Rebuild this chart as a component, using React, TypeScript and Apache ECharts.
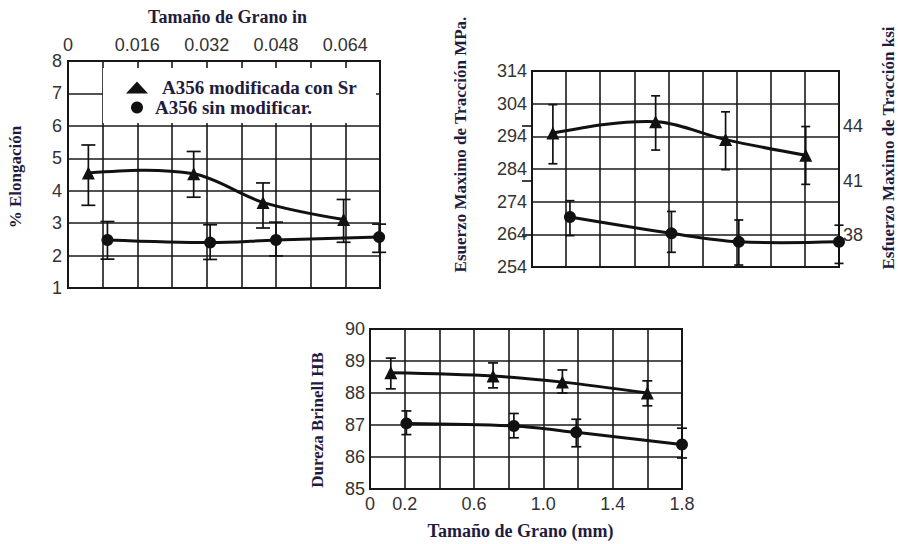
import React, { useEffect, useRef } from 'react';
import * as echarts from 'echarts';

const TRI = 'A356 modificada con Sr';
const CIR = 'A356 sin modificar.';

// Panel 1: % Elongación vs grain size (in)
const elongTriX = [0.0047, 0.029, 0.045, 0.0636];
const elongTriY = [4.55, 4.52, 3.64, 3.11];
const elongTriLow = [3.55, 3.8, 2.85, 2.41];
const elongTriHigh = [5.41, 5.21, 4.24, 3.73];
const elongCirX = [0.0091, 0.0328, 0.048, 0.0718];
const elongCirY = [2.48, 2.4, 2.48, 2.57];
const elongCirLow = [1.89, 1.88, 1.99, 2.1];
const elongCirHigh = [3.05, 2.95, 3.03, 2.97];

// Panel 2: Esfuerzo máximo (MPa) vs grain size (in)
const utsTriX = [0.0049, 0.029, 0.0454, 0.0642];
const utsTriY = [295.0, 298.5, 293.0, 288.2];
const utsTriLow = [285.6, 289.8, 283.8, 279.3];
const utsTriHigh = [303.7, 306.4, 301.5, 297.0];
const utsCirX = [0.0089, 0.0327, 0.0485, 0.072];
const utsCirY = [269.3, 264.3, 261.7, 261.7];
const utsCirLow = [263.6, 258.5, 254.6, 255.1];
const utsCirHigh = [274.3, 271.0, 268.4, 266.8];

// Panel 3: Dureza Brinell vs grain size (mm)
const hbTriX = [0.12, 0.71, 1.11, 1.6];
const hbTriY = [88.63, 88.53, 88.34, 88.0];
const hbTriLow = [88.13, 88.16, 88.0, 87.6];
const hbTriHigh = [89.09, 88.94, 88.72, 88.38];
const hbCirX = [0.21, 0.83, 1.19, 1.8];
const hbCirY = [87.05, 86.97, 86.77, 86.39];
const hbCirLow = [86.7, 86.6, 86.32, 85.97];
const hbCirHigh = [87.44, 87.36, 87.18, 86.9];

// Axis ranges and tick labels
const inchRange = [0, 0.072];
const inchStep = 0.008;
const inchLabels = ['0', '0.016', '0.032', '0.048', '0.064'];
const elongRange = [1, 8];
const utsRange = [254, 314];
const ksiRange = [38, 44];
const hbRange = [85, 90];
const mmRange = [0, 1.8];
const mmStep = 0.2;
const mmLabels = ['0', '0.2', '0.6', '1.0', '1.4', '1.8'];

const INK = '#111';
const TITLE = '#1f1c3d';
const LABEL = '#333';
const SANS = 'Liberation Sans, Arial, sans-serif';
const SERIF = 'Liberation Serif, Times New Roman, serif';

const pairs = (xs: number[], ys: number[]) => xs.map((x, i) => [x, ys[i]]);
const triples = (xs: number[], lo: number[], hi: number[]) => xs.map((x, i) => [x, lo[i], hi[i]]);

const errRender = (capW: number) => (params: any, api: any) => {
  const x = api.value(0);
  const pLo = api.coord([x, api.value(1)]);
  const pHi = api.coord([x, api.value(2)]);
  const style = { stroke: INK, lineWidth: 1.7 };
  return {
    type: 'group',
    children: [
      { type: 'line', shape: { x1: pLo[0], y1: pLo[1], x2: pHi[0], y2: pHi[1] }, style },
      { type: 'line', shape: { x1: pLo[0] - capW / 2, y1: pLo[1], x2: pLo[0] + capW / 2, y2: pLo[1] }, style },
      { type: 'line', shape: { x1: pHi[0] - capW / 2, y1: pHi[1], x2: pHi[0] + capW / 2, y2: pHi[1] }, style },
    ],
  };
};

// Smooth curve through the data points (cubic Hermite segments, drawn in pixel space)
const curveRender = (params: any, api: any) => {
  const n = params.dataInsideLength;
  const i = params.dataIndexInside;
  if (i >= n - 1) return { type: 'group', children: [] };
  const pts: number[][] = [];
  for (let k = 0; k < n; k++) pts.push(api.coord([api.value(0, k), api.value(1, k)]));
  const sec = (k: number) => (pts[k + 1][1] - pts[k][1]) / (pts[k + 1][0] - pts[k][0]);
  const inner = (k: number) => (pts[k + 1][1] - pts[k - 1][1]) / (pts[k + 1][0] - pts[k - 1][0]);
  const slope = (k: number) => {
    if (n === 2) return sec(0);
    if (k === 0) return 1.5 * sec(0) - 0.5 * inner(1);
    if (k === n - 1) return 1.5 * sec(n - 2) - 0.5 * inner(n - 2);
    return inner(k);
  };
  const a = pts[i];
  const b = pts[i + 1];
  const h = (b[0] - a[0]) / 3;
  return {
    type: 'bezierCurve',
    shape: {
      x1: a[0], y1: a[1], x2: b[0], y2: b[1],
      cpx1: a[0] + h, cpy1: a[1] + slope(i) * h,
      cpx2: b[0] - h, cpy2: b[1] - slope(i + 1) * h,
    },
    style: { stroke: INK, lineWidth: 3, fill: null },
  };
};

const split = { show: true, lineStyle: { color: '#1a1a1a', width: 1.6 } };
const tickLabel = { fontFamily: SANS, fontSize: 18, color: LABEL };
const titleStyle = (size: number, padding: number[]) => ({
  fontFamily: SERIF,
  fontWeight: 'bold' as const,
  fontSize: size,
  color: TITLE,
  padding,
});

const inchFmt = (v: number) => {
  const s = v === 0 ? '0' : v.toFixed(3);
  return inchLabels.includes(s) ? s : '';
};
const mmFmt = (v: number) => {
  const s = v === 0 ? '0' : v.toFixed(1);
  return mmLabels.includes(s) ? s : '';
};

function markerSeries(name: string, idx: number, xs: number[], ys: number[], symbol: string, size: number) {
  return {
    type: 'scatter',
    name,
    xAxisIndex: idx,
    yAxisIndex: idx,
    data: pairs(xs, ys),
    symbol,
    symbolSize: size,
    itemStyle: { color: INK, opacity: 1 },
    z: 4,
  };
}

function curveSeries(name: string, idx: number, xs: number[], ys: number[]) {
  return {
    type: 'custom',
    name,
    xAxisIndex: idx,
    yAxisIndex: idx,
    data: pairs(xs, ys),
    encode: { x: 0, y: 1 },
    renderItem: curveRender,
    itemStyle: { color: INK },
    silent: true,
    z: 3,
  };
}

function errSeries(name: string, idx: number, xs: number[], lo: number[], hi: number[], cap: number) {
  return {
    type: 'custom',
    name,
    xAxisIndex: idx,
    yAxisIndex: idx,
    data: triples(xs, lo, hi),
    encode: { x: 0, y: [1, 2] },
    renderItem: errRender(cap),
    itemStyle: { color: INK },
    silent: true,
    z: 2,
  };
}

const option: any = {
  animation: false,
  backgroundColor: '#fff',
  grid: [
    { left: 68, top: 61, width: 312, height: 227, show: true, borderColor: INK, borderWidth: 2 },
    { left: 532, top: 71, width: 307, height: 196, show: true, borderColor: INK, borderWidth: 2 },
    { left: 370, top: 329, width: 312, height: 160, show: true, borderColor: INK, borderWidth: 2 },
    { left: 532, top: 126, width: 307, height: 109, show: false },
  ],
  xAxis: [
    {
      type: 'value', gridIndex: 0, position: 'top', min: inchRange[0], max: inchRange[1], interval: inchStep,
      axisLine: { show: false }, axisTick: { show: false }, splitLine: split,
      axisLabel: { ...tickLabel, margin: 7, formatter: inchFmt },
      name: 'Tamaño de Grano in', nameLocation: 'middle', nameGap: 35,
      nameTextStyle: titleStyle(18, [0, 0, 0, 7]),
    },
    {
      type: 'value', gridIndex: 1, min: inchRange[0], max: inchRange[1], interval: inchStep,
      axisLine: { show: false }, axisTick: { show: false }, splitLine: split, axisLabel: { show: false },
    },
    {
      type: 'value', gridIndex: 2, min: mmRange[0], max: mmRange[1], interval: mmStep,
      axisLine: { show: false }, axisTick: { show: false }, splitLine: split,
      axisLabel: { ...tickLabel, margin: 6, formatter: mmFmt },
      name: 'Tamaño de Grano (mm)', nameLocation: 'middle', nameGap: 33,
      nameTextStyle: titleStyle(18, [0, 11, 0, 0]),
    },
    { type: 'value', gridIndex: 3, min: inchRange[0], max: inchRange[1], show: false },
  ],
  yAxis: [
    {
      type: 'value', gridIndex: 0, min: elongRange[0], max: elongRange[1], interval: 1,
      axisLine: { show: false }, axisTick: { show: false }, splitLine: split,
      axisLabel: { ...tickLabel, margin: 6 },
      name: '% Elongación', nameLocation: 'middle', nameGap: 44,
      nameTextStyle: titleStyle(17, [0, 5, 0, 0]),
    },
    {
      type: 'value', gridIndex: 1, min: utsRange[0], max: utsRange[1], interval: 10,
      axisLine: { show: false }, axisTick: { show: false }, splitLine: split,
      axisLabel: { ...tickLabel, margin: 5 },
      name: 'Esuerzo Maximo de Tracción MPa.', nameLocation: 'middle', nameGap: 63,
      nameTextStyle: titleStyle(17, [0, 0, 0, 49]),
    },
    {
      type: 'value', gridIndex: 2, min: hbRange[0], max: hbRange[1], interval: 1,
      axisLine: { show: false }, axisTick: { show: false }, splitLine: split,
      axisLabel: { ...tickLabel, margin: 5 },
      name: 'Dureza Brinell HB', nameLocation: 'middle', nameGap: 44,
      nameTextStyle: titleStyle(17, [0, 22, 0, 0]),
    },
    {
      type: 'value', gridIndex: 3, position: 'right', min: ksiRange[0], max: ksiRange[1], interval: 3,
      axisLine: { show: false },
      axisTick: { show: true, inside: true, length: 10, lineStyle: { color: INK, width: 1.6 } },
      splitLine: { show: false },
      axisLabel: { ...tickLabel, margin: 5 },
      name: 'Esfuerzo Maximo de Tracción ksi', nameLocation: 'middle', nameGap: 42,
      nameTextStyle: titleStyle(17, [0, 0, 0, 65]),
    },
  ],
  legend: {
    orient: 'vertical',
    left: 126,
    top: 78,
    padding: 0,
    itemWidth: 22,
    itemHeight: 12,
    itemGap: 1,
    textStyle: { fontFamily: SERIF, fontWeight: 'bold', fontSize: 19, color: TITLE },
    data: [
      { name: TRI, icon: 'triangle', itemStyle: { color: INK }, textStyle: { padding: [0, 0, 0, 9] } },
      { name: CIR, icon: 'circle', itemStyle: { color: INK }, textStyle: { padding: [0, 0, 0, 2] } },
    ],
  },
  graphic: [
    { type: 'rect', z: 1, shape: { x: 103, y: 68, width: 273, height: 55 }, style: { fill: '#fff' }, silent: true },
  ],
  series: [
    markerSeries(TRI, 0, elongTriX, elongTriY, 'triangle', 13),
    markerSeries(CIR, 0, elongCirX, elongCirY, 'circle', 12),
    curveSeries(TRI, 0, elongTriX, elongTriY),
    curveSeries(CIR, 0, elongCirX, elongCirY),
    errSeries(TRI, 0, elongTriX, elongTriLow, elongTriHigh, 14),
    errSeries(CIR, 0, elongCirX, elongCirLow, elongCirHigh, 14),

    markerSeries(TRI, 1, utsTriX, utsTriY, 'triangle', 13),
    markerSeries(CIR, 1, utsCirX, utsCirY, 'circle', 12),
    curveSeries(TRI, 1, utsTriX, utsTriY),
    curveSeries(CIR, 1, utsCirX, utsCirY),
    errSeries(TRI, 1, utsTriX, utsTriLow, utsTriHigh, 9),
    errSeries(CIR, 1, utsCirX, utsCirLow, utsCirHigh, 9),

    markerSeries(TRI, 2, hbTriX, hbTriY, 'triangle', 13),
    markerSeries(CIR, 2, hbCirX, hbCirY, 'circle', 12),
    curveSeries(TRI, 2, hbTriX, hbTriY),
    curveSeries(CIR, 2, hbCirX, hbCirY),
    errSeries(TRI, 2, hbTriX, hbTriLow, hbTriHigh, 10),
    errSeries(CIR, 2, hbCirX, hbCirLow, hbCirHigh, 10),
  ],
};

export default function App() {
  const ref = useRef<HTMLDivElement>(null);
  useEffect(() => {
    if (!ref.current) return;
    const chart = echarts.init(ref.current, null, { renderer: 'svg' });
    chart.setOption(option);
    return () => chart.dispose();
  }, []);
  return (
    <div
      ref={ref}
      style={{ position: 'absolute', left: 0, top: 0, width: 898, height: 544, background: '#fff' }}
    />
  );
}
